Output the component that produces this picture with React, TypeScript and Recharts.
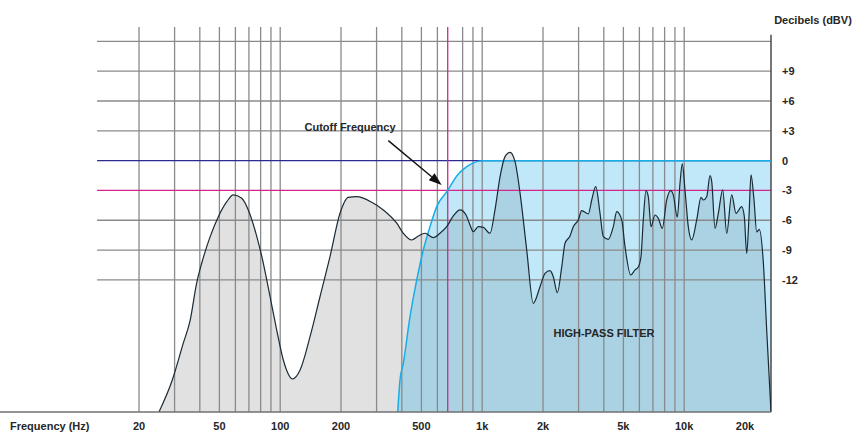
import {
  ComposedChart,
  Area,
  Line,
  XAxis,
  YAxis,
  ReferenceLine,
  ReferenceDot,
} from "recharts";

// signal level (dBV) at frequency (Hz)
const signalFreq = [
  25.1, 29.2, 33.1, 35.8, 38.6, 40.9, 45.0, 49.4, 54.4, 58.6,
  64.5, 69.5, 76.6, 82.5, 89.1, 96.1, 103.6, 115.3, 125.4, 140.5,
  157.4, 176.4, 197.7, 217.4, 239.3, 283.9, 324, 377.5, 407, 447.8,
  482.8, 521.2, 572.8, 618.2, 667.2, 719.6, 776.5, 831.6, 870.3, 903.6,
  956.8, 1013, 1093, 1157, 1226, 1297, 1373, 1453, 1539, 1661,
  1790, 1933, 2047, 2166, 2249, 2354, 2477, 2571, 2721, 2825,
  2991, 3110, 3352, 3485, 3647, 3831, 3976, 4211, 4457, 4635,
  4905, 5094, 5437, 5710, 5928, 6110, 6273, 6470, 6642, 6851,
  7170, 7444, 7792, 8192, 8575, 8832, 9245, 9534, 9787, 10091,
  10478, 10894, 11532, 12115, 12434, 12927, 13423, 13687, 14212, 14755,
  15515, 16236, 17188, 18054, 19264, 19845, 20396, 20932, 21416, 22161,
  22855, 23541, 24640, 25611, 26900,
];
const signalDb = [
  -25.3, -22.1, -18.4, -16.1, -12.3, -10.3, -7.65, -5.64, -4.13, -3.45,
  -3.79, -4.96, -7.65, -10.33, -13.7, -17.05, -20.07, -21.98, -21.08, -17.72,
  -13.7, -9.67, -5.3, -3.69, -3.63, -4.19, -4.96, -6.3, -7.31, -7.99,
  -7.58, -7.31, -7.75, -7.31, -6.65, -5.57, -4.96, -5.47, -6.48, -7.15,
  -6.65, -6.71, -7.31, -4.96, -1.61, 0.4, 0.83, -0.08, -3.25, -8.99,
  -14.36, -12.69, -11.34, -11.08, -11.68, -13.29, -10.67, -8.32, -7.58, -6.65,
  -5.97, -5.04, -5.37, -3.96, -2.62, -5.3, -7.65, -7.92, -6.65, -5.14,
  -5.97, -8.66, -11.51, -11.0, -10.7, -9.67, -5.97, -3.02, -3.63, -6.65,
  -5.47, -5.8, -6.81, -3.96, -3.02, -3.45, -5.7, -2.28, -0.33, -2.95,
  -6.65, -7.99, -5.97, -3.69, -3.96, -3.63, -1.51, -2.11, -6.81, -5.3,
  -2.95, -7.31, -3.45, -5.3, -4.63, -5.64, -9.33, -5.64, -1.44, -3.96,
  -7.18, -6.91, -10.2, -17.05, -25.3,
];

// high-pass filter response
const filterFreq = [381.8, 391.8, 406.8, 439.2, 474.2, 511, 551.4, 595.4, 675, 748, 838.4, 939.4, 1013, 26900];
const filterDb = [-25.3, -22.08, -20.4, -15.71, -12.01, -8.99, -6.65, -4.63, -3.0, -1.54, -0.6, -0.1, 0, 0];

const freqTicks = [20, 50, 100, 200, 500, 1000, 2000, 5000, 10000, 20000];
const dbTicks = [9, 6, 3, 0, -3, -6, -9, -12];
const gridFreqs = [
  20, 30, 40, 50, 60, 70, 80, 90, 100, 200, 300, 400, 500, 600, 800, 900,
  1000, 2000, 3000, 4000, 5000, 6000, 7000, 8000, 9000, 10000,
];
const gridDbs = [12, 9, 6, 3, -6, -9, -12];
const cutoffFreq = 675;
const cutoffDb = -3;

const FREQ_MIN = 4.1;
const FREQ_MAX = 26900;
const DB_MIN = -25.3;
const DB_MAX = 13.45;
const GRID_LEFT = 12.4;

const font = "'Liberation Sans', Arial, Helvetica, sans-serif";
const tickStyle = { fontSize: 11, fontWeight: "bold", fill: "#262626", fontFamily: font };

const signalData = signalFreq.map((f, i) => ({ freq: f, db: signalDb[i] }));
const filterData = filterFreq.map((f, i) => ({ freq: f, db: filterDb[i] }));

const fmtFreq = (v: number) => (v >= 1000 ? `${v / 1000}k` : `${v}`);
const fmtDb = (v: number) => (v > 0 ? `+${v}` : `${v}`);

// arrow for the cutoff annotation
const Arrow = (props: any) => {
  const { x1, y1, x2, y2 } = props;
  const a = Math.atan2(y2 - y1, x2 - x1);
  const len = 13;
  const half = 4.5;
  const bx = x2 - len * Math.cos(a);
  const by = y2 - len * Math.sin(a);
  const pts = [
    `${x2},${y2}`,
    `${bx - half * Math.sin(a)},${by + half * Math.cos(a)}`,
    `${bx + half * Math.sin(a)},${by - half * Math.cos(a)}`,
  ].join(" ");
  return (
    <g>
      <line x1={x1} y1={y1} x2={bx} y2={by} stroke="#111" strokeWidth={1.4} />
      <polygon points={pts} fill="#111" />
    </g>
  );
};

const App = () => {
  return (
    <div style={{ position: "absolute", left: 0, top: 0, background: "#fff" }}>
      <ComposedChart
        width={855}
        height={433}
        margin={{ top: 27, right: 0, bottom: 0, left: 0 }}
      >
        <XAxis
          dataKey="freq"
          type="number"
          scale="log"
          domain={[FREQ_MIN, FREQ_MAX]}
          allowDataOverflow
          ticks={freqTicks}
          interval={0}
          tickFormatter={fmtFreq}
          tick={tickStyle}
          tickLine={false}
          tickSize={0}
          tickMargin={10}
          height={21}
          axisLine={{ stroke: "#707070", strokeWidth: 1.6 }}
          label={{
            value: "Frequency (Hz)",
            position: "insideBottomLeft",
            offset: 3,
            dx: 7,
            ...tickStyle,
          }}
        />
        <YAxis
          dataKey="db"
          type="number"
          orientation="right"
          domain={[DB_MIN, DB_MAX]}
          allowDataOverflow
          ticks={dbTicks}
          interval={0}
          tickFormatter={fmtDb}
          tick={tickStyle}
          tickLine={false}
          tickSize={0}
          tickMargin={11}
          width={84}
          axisLine={false}
          label={{ value: "Decibels (dBV)", position: "top", offset: 3, ...tickStyle }}
        />

        {/* fills */}
        <Area
          data={signalData}
          dataKey="db"
          type="monotone"
          baseValue="dataMin"
          stroke="none"
          fill="#e1e1e1"
          fillOpacity={1}
          isAnimationActive={false}
          activeDot={false}
        />
        <Area
          data={filterData}
          dataKey="db"
          type="monotone"
          baseValue="dataMin"
          stroke="none"
          fill="#26b0e7"
          fillOpacity={0.29}
          isAnimationActive={false}
          activeDot={false}
        />

        {/* grid */}
        {gridFreqs.map((f) => (
          <ReferenceLine key={`v${f}`} x={f} stroke="#8a8a8a" strokeWidth={1.3} zIndex={200} />
        ))}
        {gridDbs.map((d) => (
          <ReferenceLine
            key={`h${d}`}
            segment={[{ x: GRID_LEFT, y: d }, { x: FREQ_MAX, y: d }]}
            stroke="#8a8a8a"
            strokeWidth={1.3}
            zIndex={200}
          />
        ))}
        <ReferenceLine
          segment={[{ x: GRID_LEFT, y: 0 }, { x: FREQ_MAX, y: 0 }]}
          stroke="#2b2b92"
          strokeWidth={1.3}
          zIndex={210}
        />
        <ReferenceLine
          segment={[{ x: GRID_LEFT, y: cutoffDb }, { x: FREQ_MAX, y: cutoffDb }]}
          stroke="#d3258c"
          strokeWidth={1.3}
          zIndex={210}
        />
        <ReferenceLine x={cutoffFreq} stroke="#d3258c" strokeWidth={1.3} zIndex={210} />
        <ReferenceLine
          segment={[{ x: FREQ_MAX, y: 12.66 }, { x: FREQ_MAX, y: DB_MIN }]}
          stroke="#555"
          strokeWidth={1.6}
          zIndex={210}
        />

        {/* curves */}
        <Line
          data={filterData}
          dataKey="db"
          type="monotone"
          stroke="#19ade6"
          strokeWidth={1.5}
          dot={false}
          activeDot={false}
          isAnimationActive={false}
        />
        <Line
          data={signalData}
          dataKey="db"
          type="monotone"
          stroke="#1b2a34"
          strokeWidth={1.2}
          dot={false}
          activeDot={false}
          isAnimationActive={false}
        />

        {/* annotations */}
        <ReferenceLine
          segment={[{ x: 343, y: 2.01 }, { x: 630, y: -2.45 }]}
          shape={Arrow}
          zIndex={500}
        />
        <ReferenceDot
          x={221.6}
          y={3.42}
          r={0}
          fill="none"
          stroke="none"
          zIndex={500}
          label={{ value: "Cutoff Frequency", position: "center", ...tickStyle }}
        />
        <ReferenceDot
          x={4008}
          y={-17.35}
          r={0}
          fill="none"
          stroke="none"
          zIndex={500}
          label={{ value: "HIGH-PASS FILTER", position: "center", ...tickStyle }}
        />
      </ComposedChart>
    </div>
  );
};

export default App;
